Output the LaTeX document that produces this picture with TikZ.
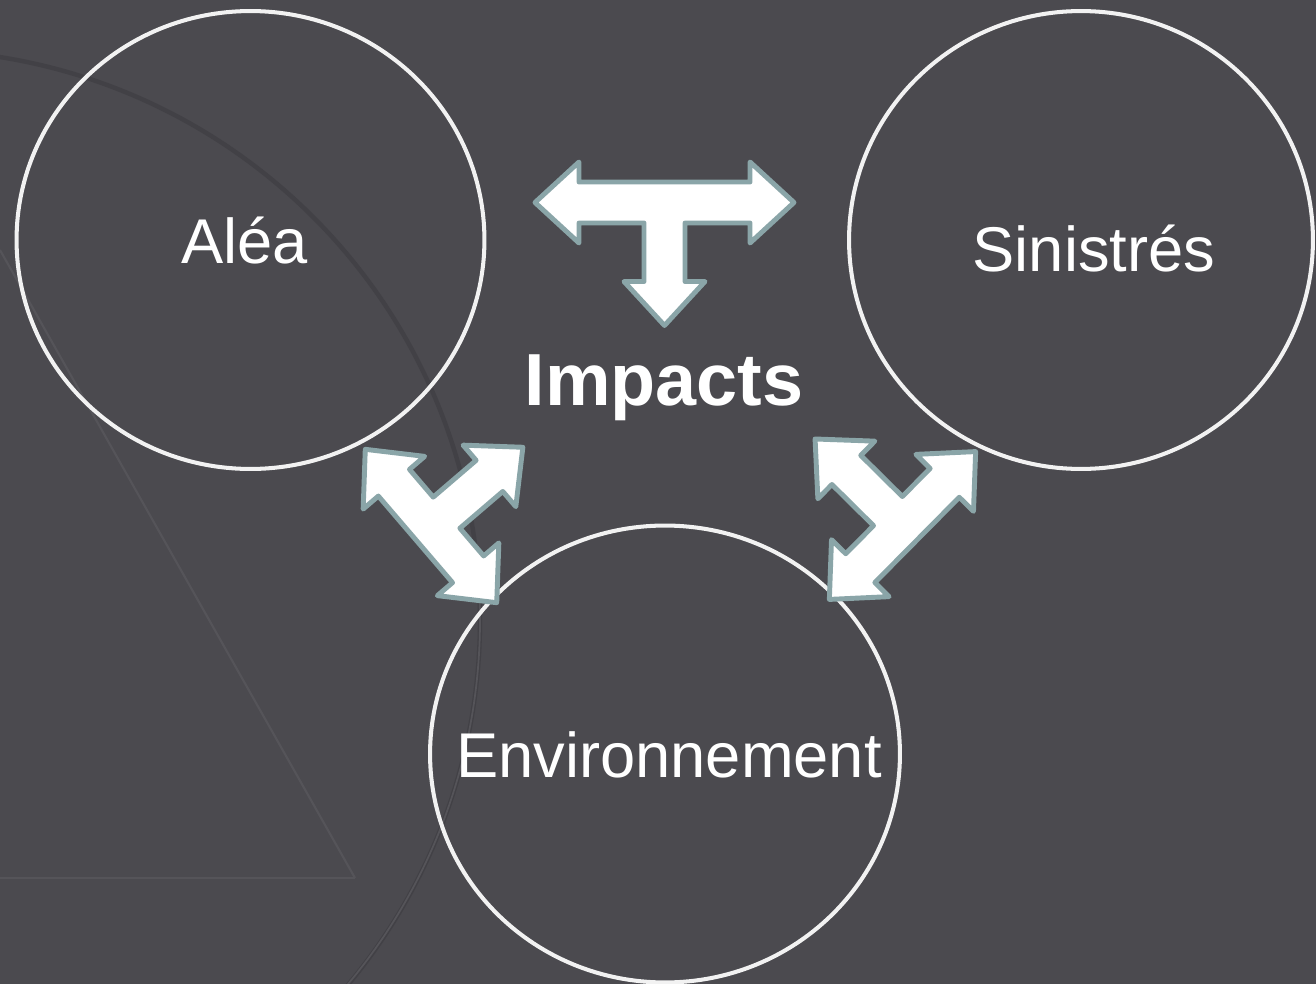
\documentclass[tikz,border=0pt]{standalone}
\usepackage{fontspec}
\setmainfont{Liberation Sans}
\usetikzlibrary{shapes.geometric}
\definecolor{bg}{RGB}{75,74,79}
\definecolor{ring}{RGB}{242,242,242}
\definecolor{arrowedge}{RGB}{138,165,168}
\definecolor{faintlight}{RGB}{85,84,89}
\definecolor{faintdark}{RGB}{66,65,70}
\newcommand\triarrow[2]{%
  \draw[arrowshape] (-#1,0) -- ({-#1+44},-40.5) -- ({-#1+44},-20.5) -- ({#1-44},-20.5)
    -- ({#1-44},-40.5) -- (#1,0) -- ({#1-44},40.5) -- ({#1-44},20.5) -- (20.5,20.5)
    -- (20.5,{#2-44}) -- (40.5,{#2-44}) -- (0,#2) -- (-40.5,{#2-44}) -- (-20.5,{#2-44})
    -- (-20.5,20.5) -- ({-#1+44},20.5) -- ({-#1+44},40.5) -- cycle;}
\begin{document}
\begin{tikzpicture}[x=0.02cm,y=-0.02cm,
  ringnode/.style={ellipse, draw=ring, line width=2.3pt, inner sep=0pt},
  lbl/.style={text=white, font=\fontsize{36}{40}\selectfont, inner sep=0pt, anchor=base},
  arrowshape/.style={fill=white, draw=arrowedge, line width=2.8pt, line join=round}]
\fill[bg] (0,0) rectangle (1316,984);
\useasboundingbox (0,0) rectangle (1316,984);
\begin{scope}
  \clip (0,0) rectangle (1316,984);
  \draw[faintdark, line width=2.5pt] (-90,620) circle[radius=570];
  \begin{scope}
    \clip (0,600) rectangle (600,984);
    \draw[faintlight, line width=1pt] (-88,620) circle[radius=568];
  \end{scope}
  \draw[faintlight, line width=1.2pt] (0,250) -- (355,878);
  \draw[faintlight, line width=1.2pt] (0,878) -- (355,878);
\end{scope}
\node[ringnode, minimum width=9.36cm, minimum height=9.16cm] (alea) at (250.5,240) {};
\node[ringnode, minimum width=9.28cm, minimum height=9.16cm] (sinis) at (1081,240) {};
\node[ringnode, minimum width=9.4cm, minimum height=9.14cm] (envir) at (665,754) {};
\node[lbl] (talea) at (244.5,263) {Aléa};
\node[lbl] (tsinis) at (1094,271) {Sinistrés};
\node[lbl] (tenvir) at (669,777) {Environnement};
\node[lbl, font=\fontsize{42}{46}\selectfont\bfseries] (impacts) at (664,405) {Impacts};
\begin{scope}[shift={(664.5,202.5)}]
  \triarrow{129.5}{123}
\end{scope}
\begin{scope}[shift={(431,526)}, rotate=130.6]
  \triarrow{101}{121}
\end{scope}
\begin{scope}[shift={(902.5,525.5)}, rotate=-134.7]
  \triarrow{104}{123}
\end{scope}
\end{tikzpicture}
\end{document}
